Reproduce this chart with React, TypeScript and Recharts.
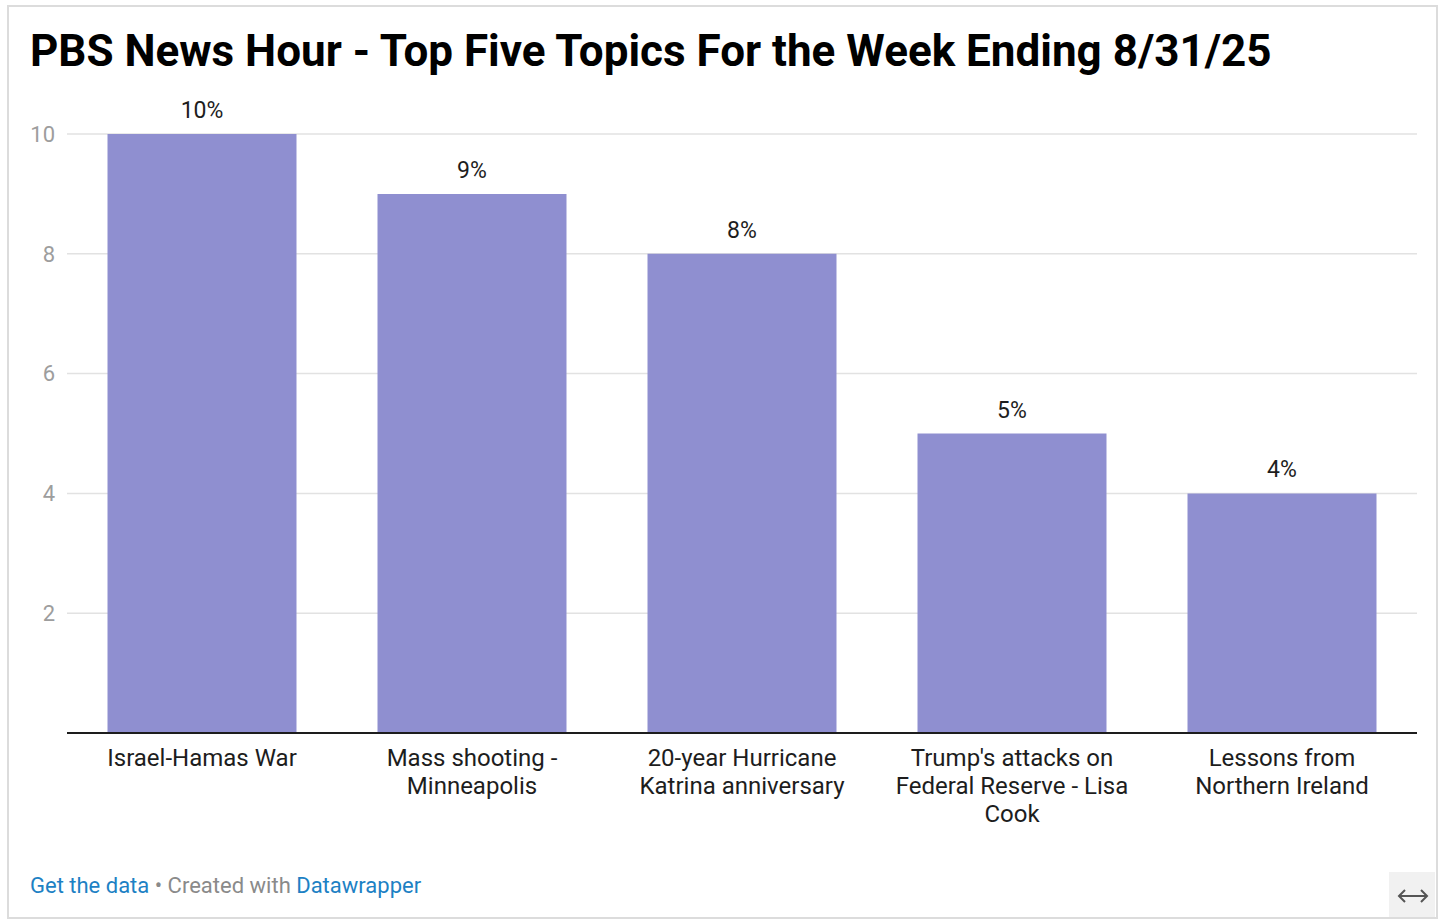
import { BarChart, Bar, XAxis, YAxis, CartesianGrid, LabelList } from "recharts";

const TITLE = "PBS News Hour - Top Five Topics For the Week Ending 8/31/25";

// "\n" marks where the original wraps each category label
const TOPICS = [
  "Israel-Hamas War",
  "Mass shooting -\nMinneapolis",
  "20-year Hurricane\nKatrina anniversary",
  "Trump's attacks on\nFederal Reserve - Lisa\nCook",
  "Lessons from\nNorthern Ireland",
];
const SHARE = [10, 9, 8, 5, 4];
const Y_TICKS = [2, 4, 6, 8, 10];

const data = TOPICS.map((topic, i) => ({ topic, share: SHARE[i] }));

const FONT = "Roboto, 'Noto Sans', sans-serif";
const BAR_COLOR = "#8f8fd0";

function TopicTick(props: any) {
  const { x, y, payload } = props;
  const lines = String(payload.value).split("\n");
  return (
    <text x={x} y={y} textAnchor="middle" fill="#1d1d1d" fontSize={24} fontFamily={FONT}>
      {lines.map((line, i) => (
        <tspan key={i} x={x} dy={i === 0 ? 25 : 28}>
          {line}
        </tspan>
      ))}
    </text>
  );
}

export default function App() {
  return (
    <div
      style={{
        position: "absolute",
        left: 0,
        top: 0,
        width: 1446,
        height: 922,
        background: "#fff",
        fontFamily: FONT,
      }}
    >
      <div
        style={{
          position: "absolute",
          left: 7,
          top: 5,
          width: 1427,
          height: 910,
          border: "2px solid #dcdcdc",
        }}
      />
      <div
        style={{
          position: "absolute",
          left: 30,
          top: 24,
          fontSize: 44,
          fontWeight: 700,
          color: "#000",
          lineHeight: "54px",
          whiteSpace: "nowrap",
        }}
      >
        {TITLE}
      </div>
      <div style={{ position: "absolute", left: 0, top: 0 }}>
        <BarChart
          width={1446}
          height={922}
          data={data}
          margin={{ top: 134, right: 29, bottom: 0, left: 0 }}
          barCategoryGap="15%"
        >
          <CartesianGrid vertical={false} stroke="#e2e2e2" strokeWidth={1.5} />
          <YAxis
            width={67}
            domain={[0, 10]}
            ticks={Y_TICKS}
            axisLine={false}
            tickLine={false}
            tickSize={0}
            tickMargin={12}
            tick={{ fill: "#9d9d9d", fontSize: 22, fontFamily: FONT }}
          />
          <XAxis
            dataKey="topic"
            interval={0}
            axisLine={{ stroke: "#1d1d1d", strokeWidth: 2 }}
            tickLine={false}
            tick={<TopicTick />}
            height={189}
          />
          <Bar dataKey="share" fill={BAR_COLOR} isAnimationActive={false}>
            <LabelList
              dataKey="share"
              position="top"
              offset={16}
              formatter={(v: any) => `${v}%`}
              fill="#1d1d1d"
              fontSize={23}
              fontFamily={FONT}
            />
          </Bar>
        </BarChart>
      </div>
      <div
        style={{
          position: "absolute",
          left: 30,
          top: 872,
          fontSize: 22,
          lineHeight: "28px",
          color: "#8a8a8a",
          whiteSpace: "nowrap",
        }}
      >
        <span style={{ color: "#1d81c4" }}>Get the data</span>
        {" • Created with "}
        <span style={{ color: "#1d81c4" }}>Datawrapper</span>
      </div>
      <div
        style={{
          position: "absolute",
          left: 1389,
          top: 872,
          width: 46,
          height: 45,
          background: "#f1f1f1",
        }}
      >
        <svg width={46} height={45}>
          <path
            d="M10 24 H38 M16 18 L10 24 L16 30 M32 18 L38 24 L32 30"
            stroke="#555"
            strokeWidth={2}
            fill="none"
          />
        </svg>
      </div>
    </div>
  );
}
